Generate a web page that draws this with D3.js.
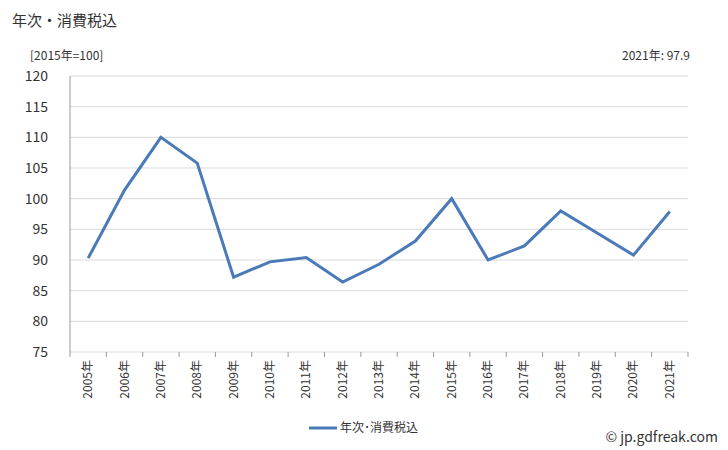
<!DOCTYPE html>
<html><head><meta charset="utf-8">
<script src="https://cdn.jsdelivr.net/npm/d3@7"></script>
<style>body{margin:0;background:#fff;font-family:"Noto Sans CJK JP",sans-serif;}</style>
</head><body><svg id="c" width="728" height="450"></svg>
<script>
var years = ['2005年','2006年','2007年','2008年','2009年','2010年','2011年','2012年','2013年','2014年','2015年','2016年','2017年','2018年','2019年','2020年','2021年'];
var values = [90.3,101.4,110.0,105.8,87.2,89.7,90.4,86.4,89.3,93.1,100.0,90.0,92.3,98.0,94.4,90.8,97.9];
var yTicks = [75,80,85,90,95,100,105,110,115,120];

var svg = d3.select('#c');
var pLeft = 70, pRight = 688, pTop = 76, pBottom = 352;
var x = d3.scaleBand().domain(years).range([pLeft, pRight]);
var y = d3.scaleLinear().domain([75, 120]).range([pBottom, pTop]);

svg.append('g').selectAll('line').data(yTicks).join('line')
  .attr('x1', pLeft).attr('x2', pRight).attr('y1', d => y(d)).attr('y2', d => y(d))
  .attr('stroke', '#d9d9d9');
svg.append('line').attr('x1', pLeft).attr('x2', pLeft).attr('y1', pTop).attr('y2', pBottom).attr('stroke', '#999');
svg.append('g').selectAll('line').data(years.concat([''])).join('line')
  .attr('x1', (d, i) => pLeft + i * x.bandwidth()).attr('x2', (d, i) => pLeft + i * x.bandwidth())
  .attr('y1', pBottom).attr('y2', pBottom + 5).attr('stroke', '#999');

svg.append('g').selectAll('text').data(yTicks).join('text')
  .attr('x', 48).attr('y', d => y(d) + 5).attr('text-anchor', 'end')
  .attr('font-size', 14).attr('fill', '#333').text(d => d);

svg.append('g').selectAll('text').data(years).join('text')
  .attr('transform', d => 'translate(' + (x(d) + x.bandwidth() / 2 + 4) + ',' + (pBottom + 8) + ') rotate(-90)')
  .attr('text-anchor', 'end').attr('font-size', 12).attr('fill', '#333').text(d => d);

var line = d3.line().x((d, i) => x(years[i]) + x.bandwidth() / 2).y(d => y(d));
svg.append('path').datum(values).attr('d', line).attr('fill', 'none')
  .attr('stroke', '#4a7ab8').attr('stroke-width', 3);

svg.append('text').attr('x', 12).attr('y', 26).attr('font-size', 15).attr('fill', '#333').text('年次・消費税込');
svg.append('text').attr('x', 30).attr('y', 60).attr('font-size', 12).attr('fill', '#333').text('[2015年=100]');
svg.append('text').attr('x', 690).attr('y', 60).attr('text-anchor', 'end').attr('font-size', 12).attr('fill', '#333').text('2021年: 97.9');

svg.append('line').attr('x1', 309).attr('x2', 337).attr('y1', 428).attr('y2', 428).attr('stroke', '#4a7ab8').attr('stroke-width', 3);
svg.append('text').attr('x', 340).attr('y', 432).attr('font-size', 12).attr('fill', '#333').text('年次･消費税込');
svg.append('text').attr('x', 718).attr('y', 442).attr('text-anchor', 'end').attr('font-size', 14).attr('fill', '#333').text('© jp.gdfreak.com');
</script></body></html>
